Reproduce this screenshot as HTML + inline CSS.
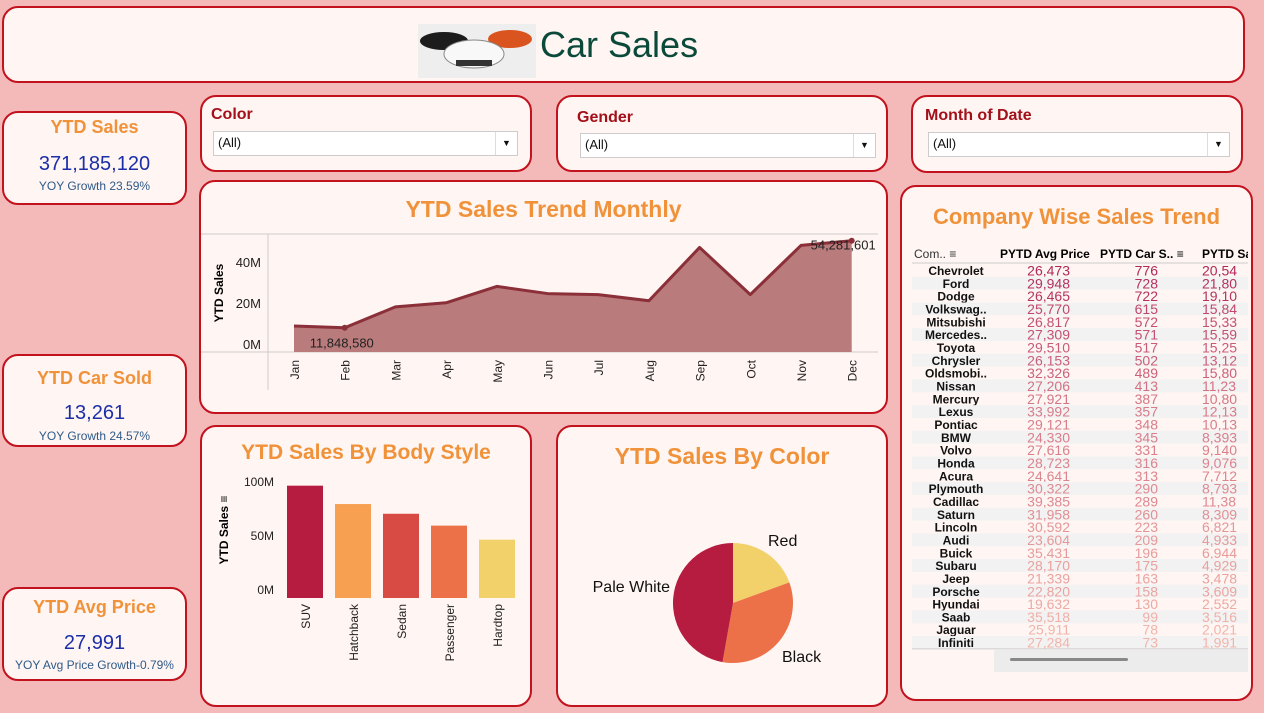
<!DOCTYPE html>
<html><head><meta charset="utf-8">
<style>
*{box-sizing:border-box;margin:0;padding:0}
body{width:1264px;height:713px;background:#f4b9b9;font-family:"Liberation Sans",sans-serif;position:relative;overflow:hidden}
.p{position:absolute;background:#fff5f2;border:2px solid #c2121e;border-radius:16px}
.kt{position:absolute;left:0;width:100%;text-align:center;color:#f0923a;font-weight:bold;font-size:18px}
.kv{position:absolute;left:0;width:100%;text-align:center;color:#1c2fa8;font-size:20px}
.kg{position:absolute;left:0;width:100%;text-align:center;color:#2e5a8a;font-size:12px}
.fl{position:absolute;left:9px;top:10px;color:#a3101a;font-weight:bold;font-size:16px}
.dd{position:absolute;background:#fff;border:1px solid #ccc;font-size:13px;padding:3px 4px;color:#111}
.dd span{position:absolute;right:0;top:0;width:22px;height:100%;border-left:1px solid #ddd;text-align:center;font-size:9px;line-height:22px}
.ct{position:absolute;left:0;width:100%;text-align:center;color:#f0923a;font-weight:bold;font-size:23px}
svg text{font-family:"Liberation Sans",sans-serif}
</style></head><body>
<div class="p" style="left:2px;top:6px;width:1243px;height:77px;">
  <svg style="position:absolute;left:414px;top:16px" width="118" height="54">
    <rect width="118" height="54" fill="#eeeeee"/>
    <ellipse cx="26" cy="17" rx="24" ry="9" fill="#1c1c1c"/>
    <ellipse cx="92" cy="15" rx="22" ry="9" fill="#d9541e"/>
    <ellipse cx="56" cy="30" rx="30" ry="14" fill="#f8f8f8" stroke="#888"/>
    <rect x="38" y="36" width="36" height="6" fill="#333"/>
  </svg>
  <div style="position:absolute;left:536px;top:16px;font-size:36px;color:#0b4a3a">Car Sales</div>
</div>

<div class="p" style="left:2px;top:111px;width:185px;height:94px">
  <div class="kt" style="top:4px">YTD Sales</div><div class="kv" style="top:40px">371,185,120</div><div class="kg" style="top:66px">YOY Growth 23.59%</div></div>
<div class="p" style="left:2px;top:354px;width:185px;height:93px">
  <div class="kt" style="top:12px">YTD Car Sold</div><div class="kv" style="top:46px">13,261</div><div class="kg" style="top:73px">YOY Growth 24.57%</div></div>
<div class="p" style="left:2px;top:587px;width:185px;height:94px">
  <div class="kt" style="top:8px">YTD Avg Price</div><div class="kv" style="top:43px">27,991</div><div class="kg" style="top:69px">YOY Avg Price Growth-0.79%</div></div>

<div class="p" style="left:200px;top:95px;width:332px;height:77px"><div class="fl" style="top:9px">Color</div>
  <div class="dd" style="left:11px;top:34px;width:305px;height:25px">(All)<span>▼</span></div></div>
<div class="p" style="left:556px;top:95px;width:332px;height:77px"><div class="fl" style="left:19px;top:12px">Gender</div>
  <div class="dd" style="left:22px;top:36px;width:296px;height:25px">(All)<span>▼</span></div></div>
<div class="p" style="left:911px;top:95px;width:332px;height:78px"><div class="fl" style="left:12px;top:10px">Month of Date</div>
  <div class="dd" style="left:15px;top:35px;width:302px;height:25px">(All)<span>▼</span></div></div>

<div class="p" style="left:199px;top:180px;width:689px;height:234px">
  <div class="ct" style="top:14px">YTD Sales Trend Monthly</div></div>
<svg id="trend" style="position:absolute;left:0;top:0" width="1264" height="713"></svg>

<div class="p" style="left:200px;top:425px;width:332px;height:282px">
  <div class="ct" style="top:14px;font-size:21px">YTD Sales By Body Style</div></div>
<div class="p" style="left:556px;top:425px;width:332px;height:282px">
  <div class="ct" style="top:16px">YTD Sales By Color</div></div>
<svg id="charts" style="position:absolute;left:0;top:0" width="1264" height="713"></svg>

<div class="p" style="left:900px;top:185px;width:353px;height:516px;overflow:hidden">
  <div class="ct" style="top:17px;font-size:22px">Company Wise Sales Trend</div>
  <svg id="tbl" style="position:absolute;left:10px;top:55px" width="336" height="430"></svg>
  <div style="position:absolute;left:92px;top:463px;width:254px;height:22px;background:#ececec"><div style="position:absolute;left:16px;top:8px;width:118px;height:3px;border-radius:2px;background:#888"></div></div>
</div>

<script>
const NS="http://www.w3.org/2000/svg";
function mk(p,t,a,txt){const e=document.createElementNS(NS,t);for(const k in a)e.setAttribute(k,a[k]);if(txt!==undefined)e.textContent=txt;p.appendChild(e);return e;}

// ---- trend data
const months=["Jan","Feb","Mar","Apr","May","Jun","Jul","Aug","Sep","Oct","Nov","Dec"];
const monthSales=[12.7,11.85,22,24,32,28.5,28,25,51,28,52,54.28];
const trendTicks=[0,20,40];
const tickLabels=["0M","20M","40M"];
const trendLabels={1:"11,848,580",11:"54,281,601"};

const T=document.getElementById('trend');
const tx=i=>294+i*50.7, ty=v=>352-v*2.05;
mk(T,'line',{x1:201,x2:878,y1:234,y2:234,stroke:'#ccc'});
mk(T,'line',{x1:268,x2:268,y1:234,y2:390,stroke:'#ccc'});
mk(T,'line',{x1:201,x2:878,y1:352,y2:352,stroke:'#ccc'});
let pts=monthSales.map((v,i)=>tx(i)+','+ty(v)).join(' ');
let area=mk(T,'polygon',{points:tx(0)+','+ty(0)+' '+pts+' '+tx(11)+','+ty(0),fill:'#b97b7b'});

let ln=mk(T,'polyline',{points:pts,fill:'none',stroke:'#8b2f38','stroke-width':3,'stroke-linejoin':'round'});

trendTicks.forEach((v,i)=>{const t=mk(T,'text',{x:261,y:ty(v)-3,'text-anchor':'end','font-size':13,fill:'#222'},tickLabels[i]);
 });
const yt=mk(T,'text',{x:223,y:293,'text-anchor':'middle','font-size':12,'font-weight':'bold',transform:'rotate(-90 223 293)'},'YTD Sales');

months.forEach((m,i)=>{const t=mk(T,'text',{x:tx(i)+5,y:360,'text-anchor':'end','font-size':12,fill:'#222',transform:`rotate(-90 ${tx(i)+5} 360)`},m);
 });
[1,11].forEach(i=>{mk(T,'circle',{cx:tx(i),cy:ty(monthSales[i]),r:3,fill:'#8b2f38'});});
let l1=mk(T,'text',{x:tx(1)-35,y:ty(monthSales[1])+20,'font-size':13,fill:'#222'},trendLabels[1]);

let l2=mk(T,'text',{x:tx(11)+24,y:ty(monthSales[11])+9,'font-size':13,'text-anchor':'end',fill:'#222'},trendLabels[11]);


// ---- bar data
const bodyStyles=["SUV","Hatchback","Sedan","Passenger","Hardtop"];
const bodySales=[104,87,78,67,54];
const barTicks=[0,50,100];
const barTickLabels=["0M","50M","100M"];
const barColors=["#b51c40","#f7a052","#d84a44","#ec7149","#f2d06a"];
const C=document.getElementById('charts');
const by=v=>598-v*1.08, bx=i=>287+i*48;
bodySales.forEach((v,i)=>{const r=mk(C,'rect',{x:bx(i),y:by(v),width:36,height:by(0)-by(v),fill:barColors[i]});
 
 const t=mk(C,'text',{x:bx(i)+23,y:604,'text-anchor':'end','font-size':12,fill:'#222',transform:`rotate(-90 ${bx(i)+23} 604)`},bodyStyles[i]);
 });
barTicks.forEach((v,i)=>{const t=mk(C,'text',{x:274,y:by(v)-4,'text-anchor':'end','font-size':12,fill:'#222'},barTickLabels[i]);
 });
const byt=mk(C,'text',{x:228,y:530,'text-anchor':'middle','font-size':12,'font-weight':'bold',transform:'rotate(-90 228 530)'},'YTD Sales ≡');


// ---- pie data
const colorNames=["Red","Black","Pale White"];
const colorShares=[19.4,33.4,47.2];
const pieColors=["#f2d06a","#ec7149","#b51c40"];
const cx=733,cy=603,R=60;
let acc=0;const tot=colorShares.reduce((a,b)=>a+b,0);
colorShares.forEach((s,i)=>{const a0=acc/tot*2*Math.PI;acc+=s;const a1=acc/tot*2*Math.PI;
 const p=(a)=>[cx+R*Math.sin(a),cy-R*Math.cos(a)];const [x0,y0]=p(a0),[x1,y1]=p(a1);
 const sl=mk(C,'path',{d:`M${cx},${cy} L${x0},${y0} A${R},${R} 0 ${a1-a0>Math.PI?1:0} 1 ${x1},${y1} Z`,fill:pieColors[i]});
 });
const pl=[[768,546,'start'],[782,662,'start'],[670,592,'end']];
colorNames.forEach((n,i)=>{const t=mk(C,'text',{x:pl[i][0],y:pl[i][1],'text-anchor':pl[i][2],'font-size':16,fill:'#111'},n);
 });

// ---- table data
const companies=["Chevrolet","Ford","Dodge","Volkswag..","Mitsubishi","Mercedes..","Toyota","Chrysler","Oldsmobi..","Nissan","Mercury","Lexus","Pontiac","BMW","Volvo","Honda","Acura","Plymouth","Cadillac","Saturn","Lincoln","Audi","Buick","Subaru","Jeep","Porsche","Hyundai","Saab","Jaguar","Infiniti"];
const avgPrice=["26,473","29,948","26,465","25,770","26,817","27,309","29,510","26,153","32,326","27,206","27,921","33,992","29,121","24,330","27,616","28,723","24,641","30,322","39,385","31,958","30,592","23,604","35,431","28,170","21,339","22,820","19,632","35,518","25,911","27,284"];
const carsSold=[776,728,722,615,572,571,517,502,489,413,387,357,348,345,331,316,313,290,289,260,223,209,196,175,163,158,130,99,78,73];
const pytdSales=["20,54","21,80","19,10","15,84","15,33","15,59","15,25","13,12","15,80","11,23","10,80","12,13","10,13","8,393","9,140","9,076","7,712","8,793","11,38","8,309","6,821","4,933","6,944","4,929","3,478","3,609","2,552","3,516","2,021","1,991"];
const TB=document.getElementById('tbl');
mk(TB,'text',{x:2,y:16,'font-size':12,fill:'#333'},'Com.. ≡');
mk(TB,'text',{x:88,y:16,'font-size':12,'font-weight':'bold'},'PYTD Avg Price');
mk(TB,'text',{x:188,y:16,'font-size':12,'font-weight':'bold'},'PYTD Car S.. ≡');
mk(TB,'text',{x:290,y:16,'font-size':12,'font-weight':'bold'},'PYTD Sa');
mk(TB,'line',{x1:0,x2:336,y1:21,y2:21,stroke:'#ccc'});
function col(v){const t=Math.max(0,Math.min(1,(776-v)/700));const r=Math.round(176+t*66),g=Math.round(40+t*140),b=Math.round(90+t*80);return `rgb(${r},${g},${b})`;}
companies.forEach((c,i)=>{const y=22+i*12.83;
 if(i%2==1)mk(TB,'rect',{x:0,y:y,width:336,height:12.83,fill:'#f2f2f2'});
 const g=mk(TB,'g',{});
 mk(g,'text',{x:44,y:y+11,'text-anchor':'middle','font-size':12,'font-weight':'bold',fill:'#111'},c);
 mk(g,'text',{x:158,y:y+11.5,'text-anchor':'end','font-size':14,fill:col(carsSold[i])},avgPrice[i]);
 mk(g,'text',{x:246,y:y+11.5,'text-anchor':'end','font-size':14,fill:col(carsSold[i])},carsSold[i]);
 mk(g,'text',{x:290,y:y+11.5,'font-size':14,fill:col(carsSold[i])},pytdSales[i]);});
mk(TB,'line',{x1:0,x2:336,y1:22+30*12.83,y2:22+30*12.83,stroke:'#ccc'});
</script>
</body></html>
